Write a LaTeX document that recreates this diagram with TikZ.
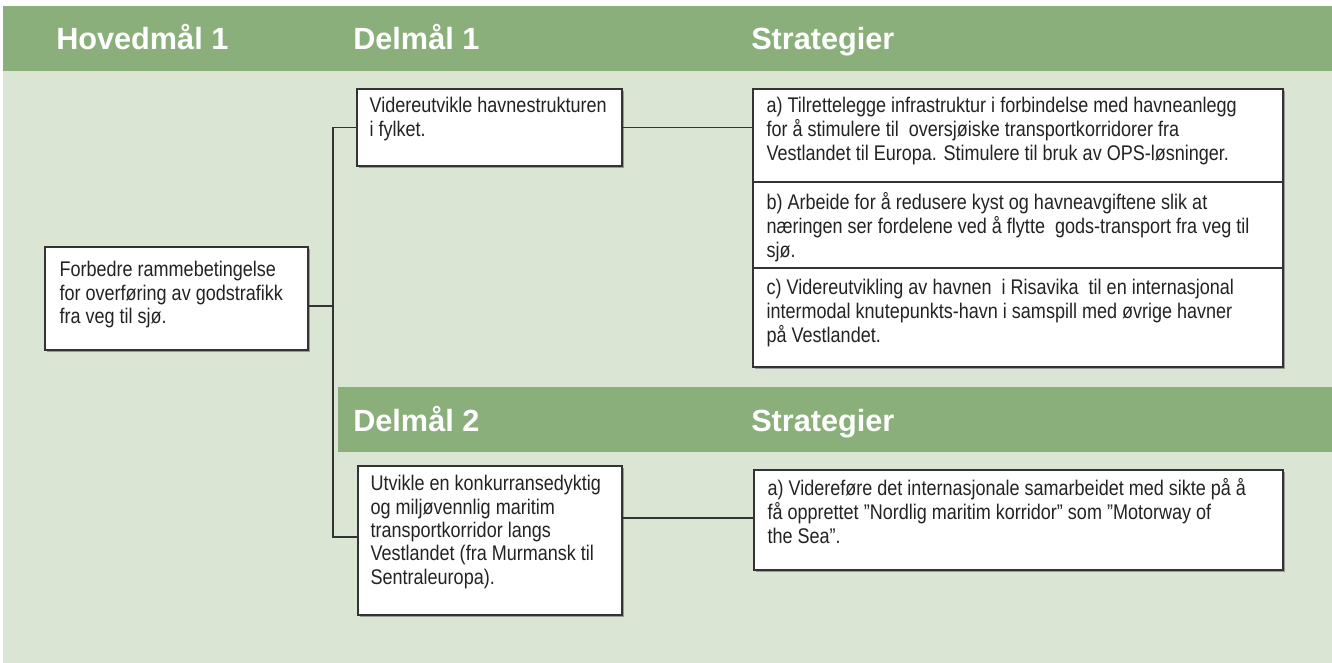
\documentclass[tikz,border=0pt]{standalone}
\usepackage{fontspec}
\setmainfont{Liberation Sans}
\newfontfamily\narrowfont{Liberation Sans}[FakeStretch=0.85]
\usetikzlibrary{fit,shadows}
\definecolor{hdrgreen}{RGB}{139,175,122}
\definecolor{panelgreen}{RGB}{218,229,211}
\definecolor{boxline}{RGB}{51,51,51}
\definecolor{bodytext}{RGB}{35,35,35}
\tikzset{
  box/.style={draw=boxline, line width=1pt, fill=white, inner sep=0pt,
    drop shadow={shadow xshift=1.2pt, shadow yshift=-1.2pt, fill=black!40, opacity=1}},
  boxtext/.style={anchor=north west, inner sep=0pt, align=left, text=bodytext,
    font=\narrowfont\fontsize{15.9}{17.5}\selectfont},
  strattext/.style={boxtext, font=\narrowfont\fontsize{15.9}{18}\selectfont},
  hdrtext/.style={anchor=base west, inner sep=0pt, text=white,
    font=\bfseries\fontsize{23}{27}\selectfont},
  link/.style={draw=boxline, line width=0.9pt},
}
\begin{document}
\begin{tikzpicture}[x=0.75pt, y=-0.75pt]
\useasboundingbox (0,0) rectangle (1332,663);
% background panel and header bars
\fill[panelgreen] (3,71) rectangle (1332,663);
\fill[hdrgreen] (3,6) rectangle (1332,71);
\fill[hdrgreen] (338,387) rectangle (1332,452);
\node[hdrtext] (hhoved) at (56,50) {Hovedmål 1};
\node[hdrtext] (hdel1) at (353,50) {Delmål 1};
\node[hdrtext] (hstrat1) at (751,50) {Strategier};
\node[hdrtext] (hdel2) at (353,431) {Delmål 2};
\node[hdrtext] (hstrat2) at (751,431) {Strategier};
% main goal
\node[box, fit={(45,247) (308,350)}] (main) {};
\node[boxtext] at ([shift={(15,15)}]main.north west)
  {Forbedre rammebetingelse\\for overføring av godstrafikk\\fra veg til sjø.};
% delmaal 1
\node[box, fit={(357,89) (622,166)}] (d1) {};
\node[boxtext] at ([shift={(13,9)}]d1.north west)
  {Videreutvikle havnestrukturen\\i fylket.};
\node[box, fit={(753,89) (1283,182)}] (s1a) {};
\node[strattext] at ([shift={(14,9)}]s1a.north west)
  {a) Tilrettelegge infrastruktur i forbindelse med havneanlegg\\for å stimulere til\ \ oversjøiske transportkorridorer fra\\Vestlandet til Europa. Stimulere til bruk av OPS-løsninger.};
\node[box, fit={(753,182) (1283,268)}] (s1b) {};
\node[strattext] at ([shift={(14,11)}]s1b.north west)
  {b) Arbeide for å redusere kyst og havneavgiftene slik at\\næringen ser fordelene ved å flytte\ \ gods-transport fra veg til\\sjø.};
\node[box, fit={(753,268) (1283,367)}] (s1c) {};
\node[strattext] at ([shift={(14,12)}]s1c.north west)
  {c) Videreutvikling av havnen\ \ i Risavika\ \ til en internasjonal\\intermodal knutepunkts-havn i samspill med øvrige havner\\på Vestlandet.};
% delmaal 2
\node[box, fit={(358,466) (622,615)}] (d2) {};
\node[boxtext] at ([shift={(13,10)}]d2.north west)
  {Utvikle en konkurransedyktig\\og miljøvennlig maritim\\transportkorridor langs\\Vestlandet (fra Murmansk til\\Sentraleuropa).};
\node[box, fit={(754,470) (1283,570)}] (s2) {};
\node[strattext] at ([shift={(14,9)}]s2.north west)
  {a) Videreføre det internasjonale samarbeidet med sikte på å\\få opprettet ”Nordlig maritim korridor” som ”Motorway of\\the Sea”.};
% connectors
\coordinate (jmain) at (333,306);
\coordinate (jbot) at (333,537);
\coordinate (jd2) at (622,518);
\draw[link] (d1.west) -| (jbot) -- (d2.west |- jbot);
\draw[link] (main.east |- jmain) -- (jmain);
\draw[link] (d1.east) -- (s1a.west |- d1.east);
\draw[link] (d2.east |- jd2) -- (s2.west |- jd2);
\end{tikzpicture}
\end{document}
